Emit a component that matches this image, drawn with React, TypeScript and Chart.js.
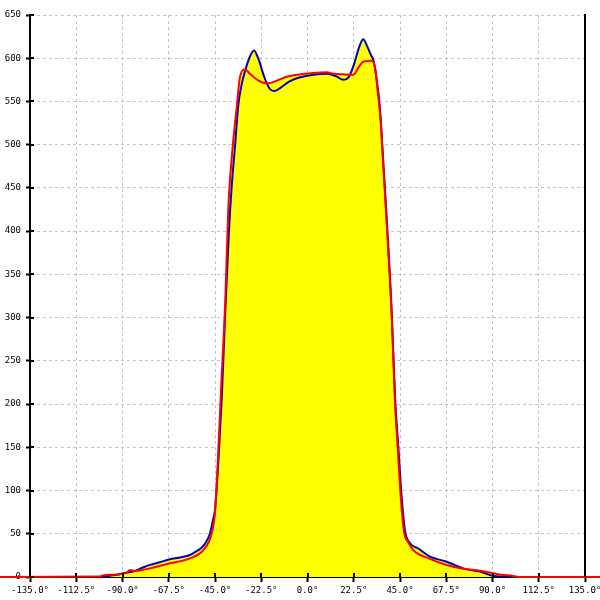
import React, { useEffect, useRef } from "react";
import { Chart, registerables } from "chart.js";

Chart.register(...registerables);

// Blue series (angle in degrees, value)
const blueAngles = [-101, -96, -92, -89.6, -84, -80, -76.6, -72, -66.9, -62, -57.2, -54, -52, -50, -47.5, -46, -45, -43.4, -41.7, -40.1, -38.2, -36.9, -35.3, -33.7, -32, -30.4, -28, -26, -24, -21, -18.5, -16.3, -13, -9, -3.6, 3, 9.3, 14, 17.4, 20, 22.5, 25, 27.1, 29, 31, 32, 33.7, 35.3, 36.9, 38.5, 41, 42.6, 44.2, 45.8, 47.4, 49.9, 53.9, 59.6, 67.7, 75.8, 83.9, 90.4, 95, 100];
const blueValues = [0, 1.5, 3, 4.3, 7, 11, 14, 17, 20.5, 22.5, 25.4, 30, 33, 38, 50, 66, 78, 132, 208, 301, 401, 451, 497, 545, 570, 585, 602, 609, 600, 578, 565, 562, 566, 573, 578, 581, 582, 579, 575, 578, 592, 612, 622, 614, 603, 598, 575, 540, 479, 416, 305, 208, 150, 93, 54, 39, 33, 23.5, 17.7, 10, 6.2, 1.2, 0.5, 0];

// Red series (angle in degrees, value)
const redAngles = [-150, -101, -100, -93, -88, -86.4, -84, -76.6, -66.9, -57.2, -50.7, -46.6, -45, -43.5, -42, -40, -38.5, -36.1, -34.4, -32.8, -30.4, -28, -25, -22, -19.1, -15, -10.1, -5, 1.2, 9.3, 13, 17.4, 22.3, 25, 27.1, 31.2, 32.8, 34, 35.5, 37, 38.5, 41, 42.5, 44, 45.5, 47, 49, 51.5, 59.6, 67.7, 75.8, 83.9, 88, 92, 100, 104, 150];
const redValues = [0, 0.5, 1.5, 3, 5, 8, 7, 10, 15.8, 21.6, 31, 50.5, 75, 140, 220, 320, 428, 505, 544, 579, 587, 582, 576, 572, 571, 574, 578.6, 581, 582.5, 583.7, 582, 581.4, 581, 590, 596, 597, 590, 565, 530, 470, 410, 300, 205, 145, 88, 52, 40, 31, 21, 13.9, 9.5, 7.3, 5.5, 3.5, 1.2, 0, 0];

const xMin = -135;
const xMax = 135;
const xStep = 22.5;
const yMin = 0;
const yMax = 650;
const yStep = 50;

const FONT = { family: "DejaVu Sans Mono", size: 9 };

const innerTicks = {
  id: "innerTicks",
  afterDatasetsDraw(chart: any) {
    const ctx = chart.ctx;
    const xs = chart.scales.x;
    const ys = chart.scales.y;
    ctx.save();
    ctx.strokeStyle = "#000";
    ctx.lineWidth = 2;
    ctx.beginPath();
    xs.ticks.forEach((t: any) => {
      const px = Math.round(xs.getPixelForValue(t.value));
      ctx.moveTo(px, xs.top);
      ctx.lineTo(px, xs.top - 4);
    });
    ys.ticks.forEach((t: any) => {
      const py = Math.round(ys.getPixelForValue(t.value));
      ctx.moveTo(ys.right, py);
      ctx.lineTo(ys.right + 4, py);
    });
    ctx.stroke();
    ctx.restore();
  },
};

export default function App() {
  const ref = useRef<HTMLCanvasElement>(null);
  useEffect(() => {
    if (!ref.current) return;
    const chart = new Chart(ref.current, {
      type: "line",
      data: {
        datasets: [
          {
            label: "red",
            data: redAngles.map((a, i) => ({ x: a, y: redValues[i] })),
            borderColor: "#ff0000",
            backgroundColor: "#ffff00",
            borderWidth: 2,
            pointRadius: 0,
            fill: "origin",
            cubicInterpolationMode: "monotone",
            clip: false as any,
          },
          {
            label: "blue",
            data: blueAngles.map((a, i) => ({ x: a, y: blueValues[i] })),
            borderColor: "#0000c8",
            backgroundColor: "#ffff00",
            borderWidth: 2,
            pointRadius: 0,
            fill: "origin",
            cubicInterpolationMode: "monotone",
          },
        ],
      },
      options: {
        responsive: false,
        animation: false,
        devicePixelRatio: 1,
        layout: { padding: { top: 15, left: 0, right: 0, bottom: 0 } },
        plugins: {
          legend: { display: false },
          tooltip: { enabled: false },
          filler: { drawTime: "beforeDatasetsDraw" },
        } as any,
        scales: {
          x: {
            type: "linear",
            min: xMin,
            max: xMax,
            ticks: {
              stepSize: xStep,
              autoSkip: false,
              maxRotation: 0,
              color: "#000",
              font: FONT,
              padding: 3,
              callback: (v: any) => Number(v).toFixed(1) + "°",
            },
            grid: {
              color: "#c4c4c4",
              lineWidth: 1,
              tickColor: "#000",
              tickWidth: 2,
              tickLength: 5,
            },
            border: { color: "#000", width: 2, dash: [3, 3] },
            afterFit: (s: any) => {
              s.height = 23;
              s.paddingLeft = 0;
              s.paddingRight = 0;
            },
          },
          y: {
            type: "linear",
            min: yMin,
            max: yMax,
            ticks: {
              stepSize: yStep,
              color: "#000",
              font: FONT,
              padding: 5,
            },
            grid: {
              color: "#c4c4c4",
              lineWidth: 1,
              tickColor: "#000",
              tickWidth: 2,
              tickLength: 4,
            },
            border: { color: "#000", width: 2, dash: [3, 3] },
            afterFit: (s: any) => {
              s.width = 30;
              s.paddingTop = 0;
              s.paddingBottom = 0;
            },
          },
          y2: {
            type: "linear",
            position: "right",
            min: yMin,
            max: yMax,
            ticks: { display: false },
            grid: { drawOnChartArea: false, drawTicks: false },
            border: { color: "#000", width: 2 },
            afterFit: (s: any) => {
              s.width = 15;
            },
          },
        },
      },
      plugins: [innerTicks],
    });
    return () => chart.destroy();
  }, []);
  return (
    <div style={{ position: "absolute", left: 0, top: 0, width: 600, height: 600, background: "#fff" }}>
      <canvas ref={ref} width={600} height={600} />
    </div>
  );
}
